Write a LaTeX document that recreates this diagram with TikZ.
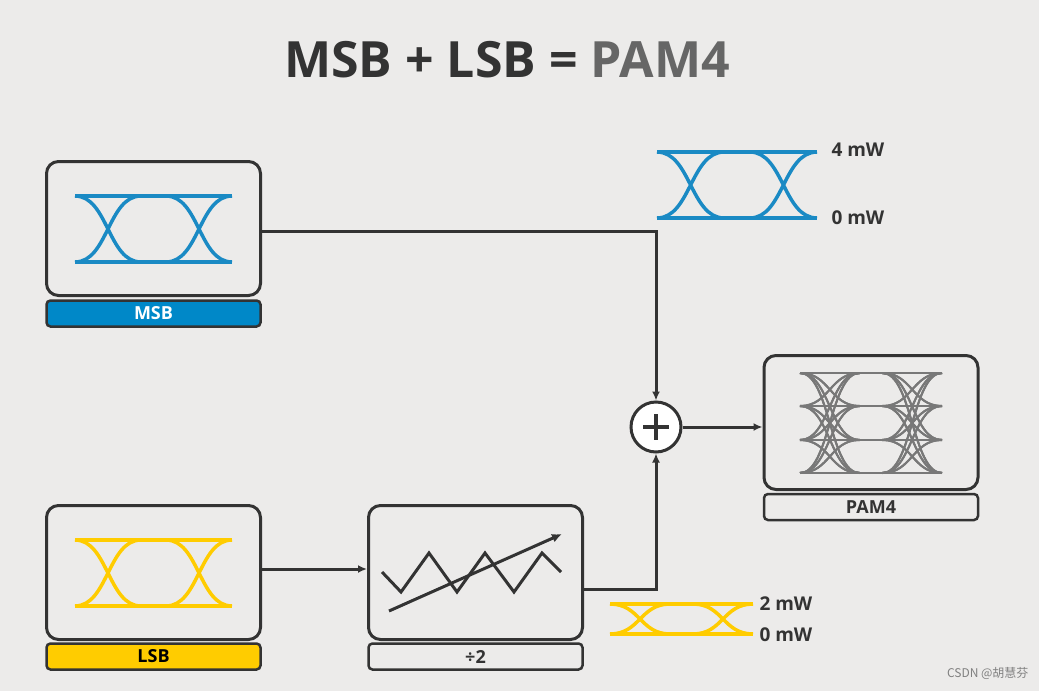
\documentclass[tikz,border=0pt]{standalone}
\usepackage{fontspec}
\setmainfont{Open Sans}
\newfontfamily\cjk{Noto Sans CJK SC}
\usetikzlibrary{arrows.meta}
\definecolor{bg}{RGB}{236,235,234}
\definecolor{ink}{RGB}{51,51,51}
\definecolor{msbblue}{RGB}{0,136,200}
\definecolor{eyeblue}{RGB}{26,138,196}
\definecolor{lsbyellow}{RGB}{255,204,0}
\definecolor{eyegray}{RGB}{120,120,120}
\tikzset{
  box/.style={draw=ink, line width=3pt, rounded corners=12pt, fill=bg, minimum width=214pt, minimum height=134pt},
  bar/.style={draw=ink, line width=2.5pt, rounded corners=4pt, minimum width=214pt, minimum height=26pt, font=\bfseries\fontsize{18}{18}\selectfont, text=ink},
  wire/.style={draw=ink, line width=3pt},
  arr/.style={wire, -{Latex[length=9pt,width=8pt]}},
  unit/.style={font=\bfseries\fontsize{19}{19}\selectfont, text=ink, anchor=west}
}
% eye diagram: \eye{x1}{y1}{x2}{y2}{colour}{width}
\newcommand\eye[6]{%
  \pgfmathsetmacro\ew{#3-#1}
  \pgfmathsetmacro\ea{#1+0.42*\ew}\pgfmathsetmacro\ec{#1+0.21*\ew}
  \pgfmathsetmacro\eb{#3-0.42*\ew}\pgfmathsetmacro\ed{#3-0.21*\ew}
  \draw[#5, line width=#6] (#1,#2) -- (#3,#2) (#1,#4) -- (#3,#4);
  \draw[#5, line width=#6] (#1,#2) .. controls (\ec,#2) and (\ec,#4) .. (\ea,#4)
    (#1,#4) .. controls (\ec,#4) and (\ec,#2) .. (\ea,#2)
    (\eb,#2) .. controls (\ed,#2) and (\ed,#4) .. (#3,#4)
    (\eb,#4) .. controls (\ed,#4) and (\ed,#2) .. (#3,#2);}
\begin{document}
\begin{tikzpicture}[x=1pt, y=-1pt]
\fill[bg] (0,0) rectangle (1039,691);
\useasboundingbox (0,0) rectangle (1039,691);

% title
\node[font=\bfseries\fontsize{50}{50}\selectfont, text=ink] (title) at (507,60) {MSB + LSB = \textcolor{ink!75}{PAM4}};

% boxes
\node[box] (msb) at (153.5,228.5) {};
\node[bar, fill=msbblue, text=white] (msbbar) at (153.5,313.5) {MSB};
\node[box] (lsb) at (153.5,572.5) {};
\node[bar, fill=lsbyellow, text=black] (lsbbar) at (153.5,656.5) {LSB};
\node[box] (div) at (475.5,572.5) {};
\node[bar, fill=bg] (divbar) at (475.5,656.5) {÷2};
\node[box] (pam) at (871,422.5) {};
\node[bar, fill=bg] (pambar) at (871,507) {PAM4};
\node[draw=ink, line width=3pt, circle, fill=white, minimum size=50pt, inner sep=0pt] (plus) at (656,427) {};
\draw[ink, line width=4.5pt] (plus.center) ++(-13,0) -- ++(26,0) (plus.center) ++(0,-13) -- ++(0,26);

% eyes
\eye{75}{196}{232}{262}{eyeblue}{3.5pt}
\eye{657}{152}{817}{218}{eyeblue}{3.5pt}
\eye{75}{540}{232}{606}{lsbyellow}{3.5pt}
\eye{610}{604}{753}{634}{lsbyellow}{3.5pt}
\foreach \i in {373,406,440,473}
  \foreach \j in {373,406,440,473}
    {\ifnum\i=\j\else\eye{800}{\i}{942}{\j}{eyegray}{2pt}\fi}

% power levels
\node[unit] (p4) at (828,150) {4 mW};
\node[unit] (p0) at (828,218) {0 mW};
\node[unit] (p2) at (756,604) {2 mW};
\node[unit] (q0) at (756,635) {0 mW};

% divider icon
\draw[ink, line width=3pt] (382,572) -- (401,592) -- (429,553) -- (457,592) -- (485,553) -- (514,592) -- (542,553) -- (561,572);
\draw[ink, line width=3pt, -{Latex[length=10pt,width=9pt]}] (389,611) -- (562,534);

% connectors
\draw[arr] ([yshift=-2.5pt]msb.east) -| (plus.north);
\draw[arr] ([yshift=3.5pt]lsb.east) -- ([yshift=3.5pt]div.west);
\draw[arr] ([yshift=-16.5pt]div.east) -| (plus.south);
\draw[arr] (plus.east) -- (plus.east -| pam.west);

\node[font=\cjk\fontsize{12}{12}\selectfont, text=gray, anchor=east] (mark) at (1032,673) {CSDN @胡慧芬};
\end{tikzpicture}
\end{document}
